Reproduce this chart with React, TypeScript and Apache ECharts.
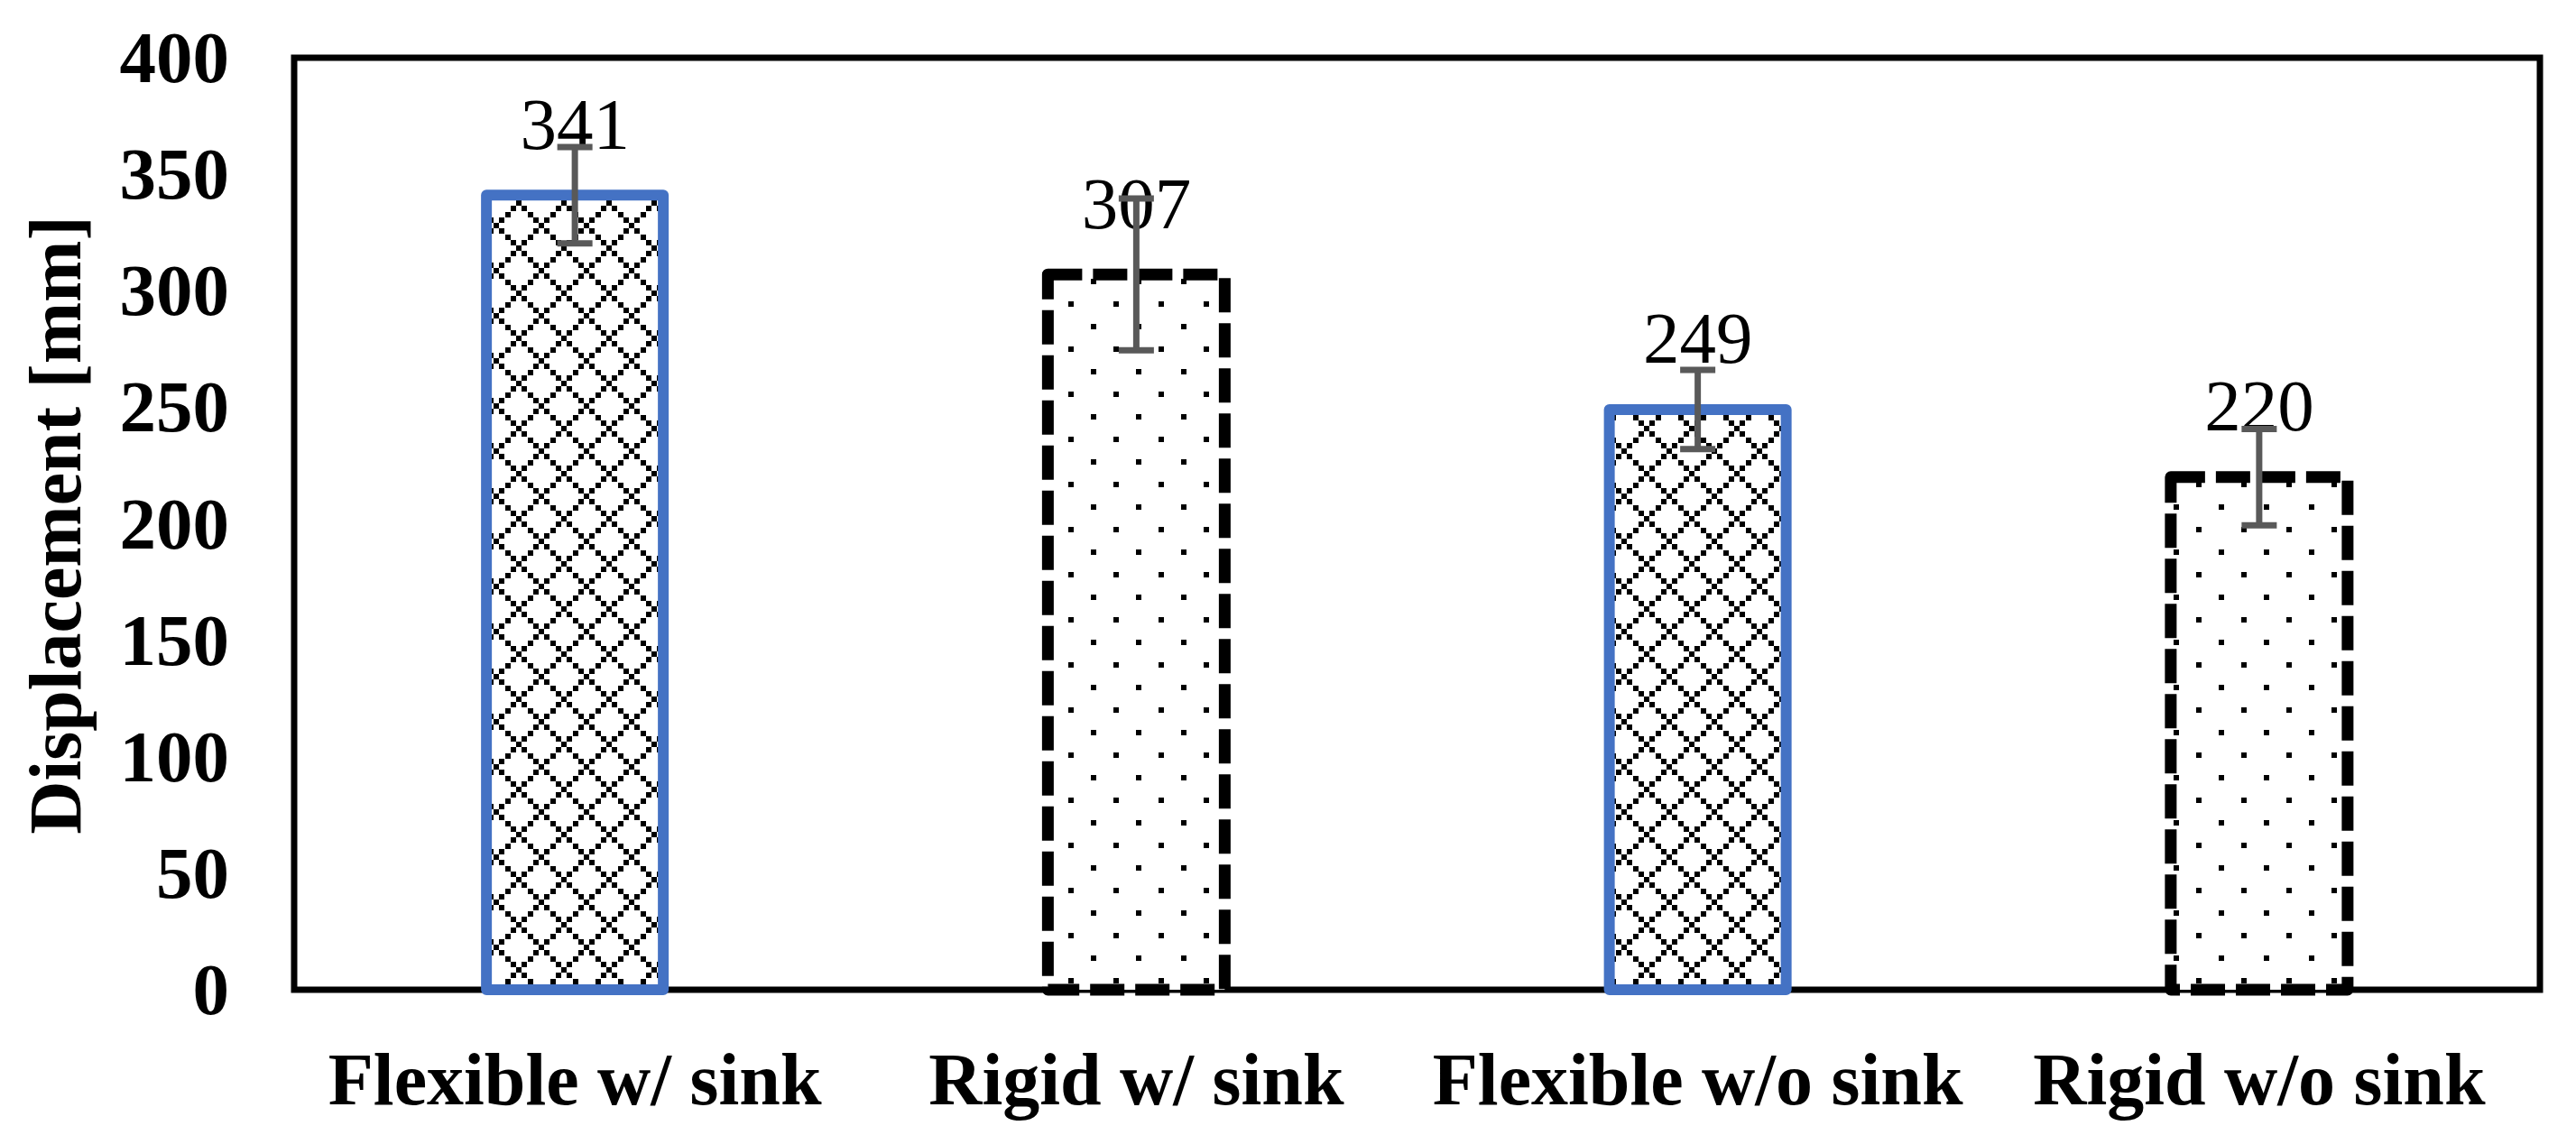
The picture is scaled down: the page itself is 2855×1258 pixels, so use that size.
import React, { useEffect, useRef } from "react";
import * as echarts from "echarts";

const categories = ["Flexible w/ sink", "Rigid w/ sink", "Flexible w/o sink", "Rigid w/o sink"];
const values = [341, 307, 249, 220];
const errors = [20.7, 32.6, 17, 20.7];
const kinds = ["flexible", "rigid", "flexible", "rigid"];
const yMin = 0;
const yMax = 400;
const yInterval = 50;
const yTitle = "Displacement [mm]";

const FONT = "'Times New Roman', 'Liberation Serif', serif";
const BAR_W = 196;

function makeTile(draw: (sq: (cx: number, cy: number, s: number) => void) => void) {
  const T = 50;
  const c = document.createElement("canvas");
  c.width = T;
  c.height = T;
  const g = c.getContext("2d") as CanvasRenderingContext2D;
  g.fillStyle = "#ffffff";
  g.fillRect(0, 0, T, T);
  g.fillStyle = "#000000";
  const sq = (cx: number, cy: number, s: number) => {
    for (const ox of [-T, 0, T]) {
      for (const oy of [-T, 0, T]) {
        g.fillRect(Math.round(cx + ox - s / 2), Math.round(cy + oy - s / 2), s, s);
      }
    }
  };
  draw(sq);
  return c;
}

export default function App() {
  const ref = useRef<HTMLDivElement>(null);
  useEffect(() => {
    document.body.style.margin = "0";
    if (!ref.current) return;
    const chart = echarts.init(ref.current, undefined, { renderer: "svg" });

    const diamond = makeTile((sq) => {
      const step = 50 / 8;
      for (let i = 0; i < 8; i++) {
        const t = i * step;
        sq(t, t, 6);
        sq(t, 50 - t, 6);
      }
    });
    const dots = makeTile((sq) => {
      sq(12, 12, 6);
      sq(37, 37, 6);
    });

    const barData = values.map((v, i) => [i, v]);
    const errData = values.map((v, i) => [i, v - errors[i], v + errors[i]]);

    chart.setOption({
      animation: false,
      backgroundColor: "#ffffff",
      grid: {
        left: 326,
        right: 40,
        top: 64,
        bottom: 161,
        show: true,
        borderColor: "#000000",
        borderWidth: 7,
        containLabel: false,
      },
      xAxis: {
        type: "category",
        data: categories,
        axisLine: { show: false },
        axisTick: { show: false },
        axisLabel: {
          interval: 0,
          margin: 58,
          color: "#000000",
          fontFamily: FONT,
          fontWeight: "bold",
          fontSize: 82,
        },
      },
      yAxis: {
        type: "value",
        min: yMin,
        max: yMax,
        interval: yInterval,
        axisLine: { show: false },
        axisTick: { show: false },
        splitLine: { show: false },
        axisLabel: {
          margin: 72,
          color: "#000000",
          fontFamily: FONT,
          fontWeight: "bold",
          fontSize: 81,
        },
      },
      graphic: [
        {
          type: "text",
          x: 61,
          y: 582,
          rotation: Math.PI / 2,
          style: {
            text: yTitle,
            fontFamily: FONT,
            fontWeight: "bold",
            fontSize: 82,
            fill: "#000000",
            align: "center",
            verticalAlign: "middle",
          },
        },
      ],
      series: [
        {
          type: "custom",
          z: 2,
          data: barData,
          encode: { x: 0, y: 1 },
          renderItem: (params: any, api: any) => {
            const idx = api.value(0);
            const v = api.value(1);
            const top = api.coord([idx, v]);
            const base = api.coord([idx, 0]);
            const flex = kinds[params.dataIndex] === "flexible";
            const style: any = flex
              ? {
                  fill: { image: diamond, repeat: "repeat", imageWidth: 50, imageHeight: 50 },
                  stroke: "#4472C4",
                  lineWidth: 12,
                  lineJoin: "round",
                }
              : {
                  fill: { image: dots, repeat: "repeat", imageWidth: 50, imageHeight: 50 },
                  stroke: "#000000",
                  lineWidth: 13,
                  lineDash: [38, 12],
                  lineJoin: "round",
                };
            return {
              type: "group",
              children: [
                {
                  type: "rect",
                  shape: { x: top[0] - BAR_W / 2, y: top[1], width: BAR_W, height: base[1] - top[1] },
                  style,
                },
                {
                  type: "text",
                  x: top[0],
                  y: top[1] - 38,
                  style: {
                    text: String(v),
                    fontFamily: FONT,
                    fontSize: 81,
                    fill: "#000000",
                    align: "center",
                    verticalAlign: "bottom",
                  },
                },
              ],
            };
          },
        },
        {
          type: "custom",
          z: 10,
          data: errData,
          encode: { x: 0, y: [1, 2] },
          renderItem: (params: any, api: any) => {
            const x = api.value(0);
            const lo = api.coord([x, api.value(1)]);
            const hi = api.coord([x, api.value(2)]);
            const hw = 19.5;
            const style = { stroke: "#595959", lineWidth: 7 };
            return {
              type: "group",
              children: [
                { type: "line", shape: { x1: hi[0], y1: hi[1], x2: lo[0], y2: lo[1] }, style },
                { type: "line", shape: { x1: hi[0] - hw, y1: hi[1], x2: hi[0] + hw, y2: hi[1] }, style },
                { type: "line", shape: { x1: lo[0] - hw, y1: lo[1], x2: lo[0] + hw, y2: lo[1] }, style },
              ],
            };
          },
        },
      ],
    });
    return () => chart.dispose();
  }, []);
  return <div ref={ref} style={{ width: 2855, height: 1258 }} />;
}
